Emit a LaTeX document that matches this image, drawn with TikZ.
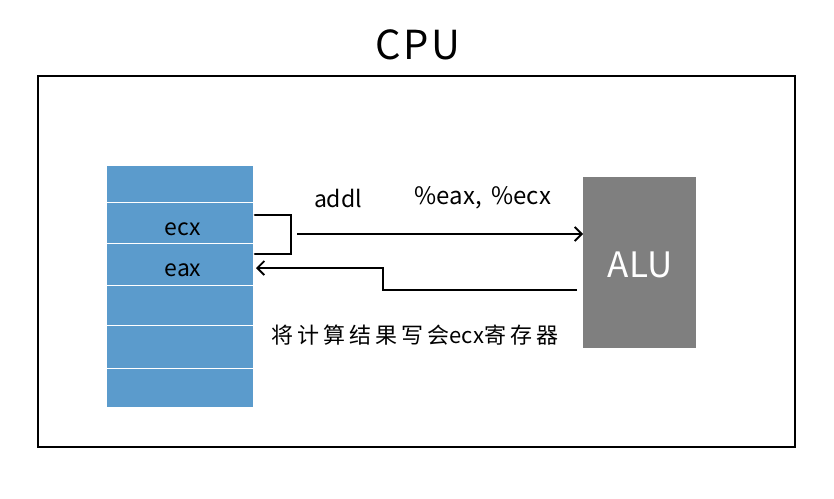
\documentclass[tikz,border=0pt]{standalone}
\usepackage{fontspec}
\setmainfont{Noto Sans CJK SC}
\usetikzlibrary{arrows.meta}
\definecolor{regblue}{HTML}{5B9BCC}
\definecolor{alugray}{HTML}{7F7F7F}
\tikzset{
  reg/.style={fill=regblue, draw=white, line width=1.2pt},
  wire/.style={line width=2.7pt, black},
  tip/.style={-{Straight Barb[length=7pt,width=14pt,line width=1.8pt]}},
  lbl/.style={font=\fontsize{23}{26}\selectfont},
}
\begin{document}
\begin{tikzpicture}[x=1pt,y=-1pt]
\useasboundingbox (0,0) rectangle (834,498);
\fill[white] (0,0) rectangle (834,498);
% title
\node (cpu) at (418,45) {\fontsize{40}{44}\selectfont\addfontfeatures{LetterSpace=6}CPU};
% outer box
\draw[line width=2.4pt] (38,76) rectangle (795,447);
% registers
\node[reg, minimum width=147pt, minimum height=37pt, anchor=north west, inner sep=0] (r1) at (106,165) {};
\node[reg, minimum width=147pt, minimum height=41pt, anchor=north west, inner sep=0] (r2) at (106,202) {};
\node[reg, minimum width=147pt, minimum height=42pt, anchor=north west, inner sep=0] (r3) at (106,243) {};
\node[reg, minimum width=147pt, minimum height=40pt, anchor=north west, inner sep=0] (r4) at (106,285) {};
\node[reg, minimum width=147pt, minimum height=43pt, anchor=north west, inner sep=0] (r5) at (106,325) {};
\node[reg, minimum width=147pt, minimum height=39pt, anchor=north west, inner sep=0] (r6) at (106,368) {};
\node[lbl] (ecx) at (183,229) {ecx};
\node[lbl] (eax) at (183,270) {eax};
% ALU
\node[fill=alugray, minimum width=113pt, minimum height=171pt, anchor=north west, inner sep=0] (alu) at (583,177) {};
\node[text=white] (alut) at (640,265) {\fontsize{35}{38}\selectfont ALU};
% connectors
\coordinate (b1) at (255,215);
\coordinate (b2) at (291,215);
\coordinate (b3) at (291,254);
\coordinate (b4) at (255,254);
\draw[wire, line cap=round] (b1) -- (b2) -- (b3) -- (b4);
\coordinate (a0) at (297,234);
\draw[wire, tip] (a0) -- (alu.west |- a0);
\coordinate (c0) at (577,290);
\coordinate (c1) at (383,290);
\coordinate (c2) at (383,268);
\coordinate (c3) at (256,268);
\draw[wire, tip] (c0) -- (c1) -- (c2) -- (c3);
% labels
\node[lbl] (addl) at (338,198) {addl};
\node[font=\fontsize{24}{26}\selectfont] (ops) at (483,198) {\%eax,\, \%ecx};
\node[font=\fontsize{22}{24}\selectfont] (note) at (415,335) {{\addfontfeatures{LetterSpace=18}将计算结果写会}ecx{\addfontfeatures{LetterSpace=18}寄存器}};
\end{tikzpicture}
\end{document}
